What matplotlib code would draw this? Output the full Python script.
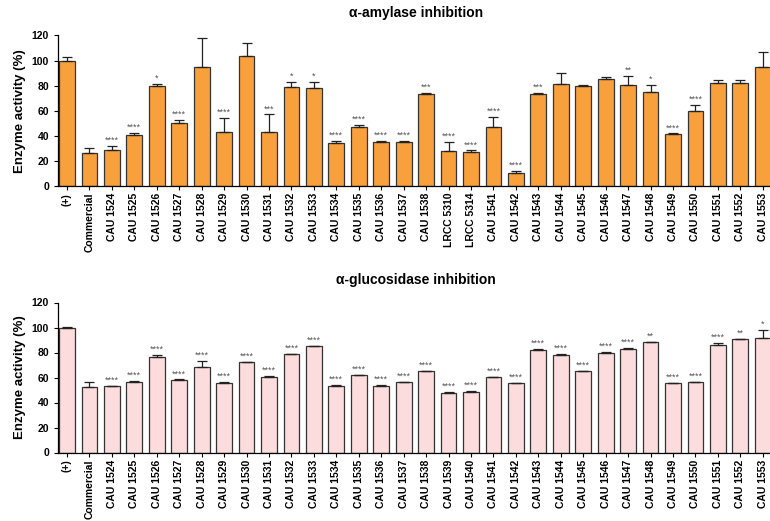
import matplotlib
matplotlib.use("Agg")
import matplotlib.pyplot as plt
import numpy as np

plt.rcParams['font.family'] = ['Liberation Sans', 'DejaVu Sans']
plt.rcParams['font.weight'] = 'bold'

# alpha-amylase data
amy_labels = ['(+)', 'Commercial', 'CAU 1524', 'CAU 1525', 'CAU 1526', 'CAU 1527', 'CAU 1528',
              'CAU 1529', 'CAU 1530', 'CAU 1531', 'CAU 1532', 'CAU 1533', 'CAU 1534', 'CAU 1535',
              'CAU 1536', 'CAU 1537', 'CAU 1538', 'LRCC 5310', 'LRCC 5314', 'CAU 1541', 'CAU 1542',
              'CAU 1543', 'CAU 1544', 'CAU 1545', 'CAU 1546', 'CAU 1547', 'CAU 1548', 'CAU 1549',
              'CAU 1550', 'CAU 1551', 'CAU 1552', 'CAU 1553']
amy_vals = [100, 26.6, 28.7, 41, 79.8, 50.6, 95, 42.8, 103.8, 43.4, 79.3, 78.5, 34.3, 46.8,
            35.4, 35.4, 73.7, 27.7, 26.9, 47.1, 10.1, 73.2, 81.4, 79.6, 85.7, 80.4, 74.8, 41.3,
            60.1, 82, 82.5, 94.5]
amy_err = [2.7, 3.4, 3.3, 1.3, 1.4, 2.4, 23.2, 11.5, 10.6, 13.8, 4, 4.8, 1.9, 1.9,
           0.5, 0.8, 0.6, 7.7, 1.6, 8, 2.1, 1.1, 8.8, 0.8, 1.3, 7.7, 6.1, 0.7,
           4.8, 2.6, 2.1, 12]
amy_sig = ['', '', '****', '****', '*', '****', '', '****', '', '***', '*', '*', '****', '****',
           '****', '****', '***', '****', '****', '****', '****', '***', '', '', '', '**', '*', '****',
           '****', '', '', '']

# alpha-glucosidase data
glu_labels = ['(+)', 'Commercial', 'CAU 1524', 'CAU 1525', 'CAU 1526', 'CAU 1527', 'CAU 1528',
              'CAU 1529', 'CAU 1530', 'CAU 1531', 'CAU 1532', 'CAU 1533', 'CAU 1534', 'CAU 1535',
              'CAU 1536', 'CAU 1537', 'CAU 1538', 'CAU 1539', 'CAU 1540', 'CAU 1541', 'CAU 1542',
              'CAU 1543', 'CAU 1544', 'CAU 1545', 'CAU 1546', 'CAU 1547', 'CAU 1548', 'CAU 1549',
              'CAU 1550', 'CAU 1551', 'CAU 1552', 'CAU 1553']
glu_vals = [100, 52.3, 53.1, 56.8, 76.3, 58.1, 68.8, 56, 72.3, 60.8, 78.9, 85.1, 53.6, 61.9,
            53.6, 56.3, 65.1, 47.7, 48.8, 60.3, 55.7, 81.9, 78.4, 65.1, 80, 82.9, 88.3, 55.7,
            56.3, 86.4, 90.9, 91.5]
glu_err = [0.8, 4.5, 0.3, 0.5, 1.8, 0.5, 4.3, 0.5, 0.3, 0.3, 0.3, 0.5, 0.3, 0.5,
           0.8, 0.5, 0.5, 1.1, 0.5, 0.5, 0.3, 0.8, 0.5, 0.5, 0.5, 1.1, 0.5, 0.3,
           0.5, 1.6, 0.3, 6.6]
glu_sig = ['', '', '****', '****', '****', '****', '****', '****', '****', '****', '****', '****',
           '****', '****', '****', '****', '****', '****', '****', '****', '****', '****', '****',
           '****', '****', '****', '**', '****', '****', '****', '**', '*']

fig = plt.figure(figsize=(7.7, 5.21), dpi=100)


def draw_panel(rect, labels, vals, err, sig, color, title):
    ax = fig.add_axes(rect)
    x = np.arange(len(labels))
    ax.bar(x, vals, width=0.7, color=color, edgecolor='#333333', linewidth=0.9, zorder=2)
    ax.errorbar(x, vals, yerr=[np.zeros(len(err)), err], fmt='none', ecolor='#222222',
                elinewidth=0.9, capsize=3.4, capthick=0.9, zorder=3)
    for xi, v, e, s in zip(x, vals, err, sig):
        if s:
            ax.text(xi, v + e + 0.8, s, ha='center', va='bottom', fontsize=6.5,
                    color='#555555', fontweight='normal')
    ax.set_xlim(-0.4, 31.5)
    ax.set_ylim(0, 120)
    ax.set_yticks(range(0, 121, 20))
    ax.set_xticks(x)
    ax.set_xticklabels(labels, rotation=90, fontsize=7.5, fontweight='bold')
    ax.tick_params(axis='y', labelsize=7.5, direction='out', length=3, width=0.8)
    ax.tick_params(axis='x', direction='out', length=3, width=0.8, pad=2)
    ax.set_ylabel('Enzyme activity (%)', fontsize=9.5, fontweight='bold', labelpad=4)
    ax.set_title(title, fontsize=10, fontweight='bold', pad=13)
    for side in ['top', 'right']:
        ax.spines[side].set_visible(False)
    for side in ['left', 'bottom']:
        ax.spines[side].set_linewidth(0.9)
    return ax


draw_panel([58 / 770, 1 - 186 / 521, 716 / 770, 150.5 / 521], amy_labels, amy_vals, amy_err,
           amy_sig, '#F8A03C', 'α-amylase inhibition')
draw_panel([58 / 770, 1 - 452.5 / 521, 716 / 770, 150 / 521], glu_labels, glu_vals, glu_err,
           glu_sig, '#FCDCDC', 'α-glucosidase inhibition')

fig.savefig('out.png', dpi=100)
